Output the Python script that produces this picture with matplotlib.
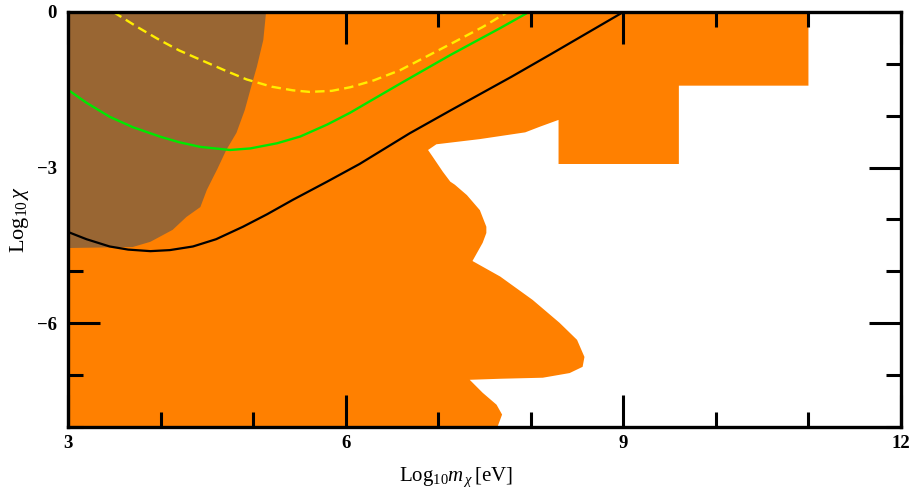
import matplotlib
matplotlib.use("Agg")
import matplotlib.pyplot as plt
from matplotlib.patches import Polygon
from matplotlib.ticker import MultipleLocator

plt.rcParams['font.family'] = ['Liberation Serif', 'DejaVu Serif']
plt.rcParams['mathtext.fontset'] = 'custom'
plt.rcParams['mathtext.rm'] = 'Liberation Serif'
plt.rcParams['mathtext.it'] = 'Liberation Serif:italic'
plt.rcParams['mathtext.bf'] = 'Liberation Serif:bold'

# ---- data ----
# excluded region (orange) boundary
orange_x = [3.0, 11.0, 11.0, 9.6, 9.6, 8.3, 8.30, 8.10, 7.94, 7.45, 6.98, 6.89, 6.94, 7.05, 7.13,
            7.18, 7.31, 7.45, 7.52, 7.52, 7.48, 7.37, 7.67, 8.02, 8.31, 8.50, 8.58, 8.56, 8.42,
            8.13, 7.67, 7.34, 7.48, 7.63, 7.69, 7.64, 3.0]
orange_y = [0.0, 0.0, -1.42, -1.42, -2.93, -2.93, -2.08, -2.21, -2.32, -2.45, -2.55, -2.66, -2.79,
            -3.08, -3.27, -3.33, -3.53, -3.82, -4.14, -4.26, -4.45, -4.80, -5.10, -5.55, -5.99,
            -6.32, -6.65, -6.84, -6.96, -7.05, -7.07, -7.09, -7.34, -7.57, -7.76, -8.0, -8.0]

# brown region boundary
brown_x = [3.0, 5.14, 5.11, 5.04, 4.99, 4.91, 4.82, 4.71, 4.61, 4.57, 4.50, 4.43, 4.28, 4.13,
           3.89, 3.70, 3.0]
brown_y = [0.0, 0.0, -0.54, -1.06, -1.37, -1.89, -2.33, -2.66, -3.04, -3.18, -3.43, -3.76,
           -3.95, -4.20, -4.43, -4.53, -4.55]

# black curve
black_x = [3.0, 3.2, 3.45, 3.65, 3.89, 4.1, 4.35, 4.6, 4.89, 5.15, 5.43, 5.8, 6.15, 6.69, 7.13,
           7.79, 8.21, 9.0]
black_y = [-4.24, -4.38, -4.52, -4.58, -4.61, -4.59, -4.52, -4.38, -4.14, -3.90, -3.62, -3.27,
           -2.93, -2.34, -1.90, -1.25, -0.82, 0.0]

# green curve
green_x = [3.0, 3.2, 3.45, 3.7, 3.99, 4.2, 4.43, 4.75, 4.97, 5.26, 5.51, 5.8, 6.05, 6.3, 6.59,
           7.13, 7.67, 7.98]
green_y = [-1.50, -1.75, -2.02, -2.22, -2.40, -2.51, -2.60, -2.66, -2.63, -2.53, -2.40, -2.17,
           -1.94, -1.68, -1.38, -0.83, -0.31, 0.0]

# yellow dashed curve
yellow_x = [3.49, 3.75, 3.99, 4.2, 4.43, 4.7, 4.93, 5.2, 5.43, 5.61, 5.85, 6.05, 6.3, 6.59, 6.85,
            7.13, 7.48, 7.75]
yellow_y = [0.0, -0.29, -0.54, -0.74, -0.92, -1.13, -1.30, -1.44, -1.51, -1.54, -1.52, -1.45,
            -1.32, -1.12, -0.88, -0.62, -0.29, 0.0]

x_major = [3, 6, 9, 12]
y_major = [0, -3, -6]

fig = plt.figure(figsize=(9.1, 4.9), dpi=100)
ax = fig.add_axes([68 / 910, 63 / 490, 833 / 910, 415 / 490])

ax.add_patch(Polygon(list(zip(orange_x, orange_y)), closed=True, facecolor='#FF8000',
                     edgecolor='none', zorder=1))
ax.add_patch(Polygon(list(zip(brown_x, brown_y)), closed=True, facecolor='#996633',
                     edgecolor='none', zorder=2))

ax.plot(green_x, green_y, color='#00E800', lw=1.7, zorder=3)
ax.plot(yellow_x, yellow_y, color='#FFEE00', lw=1.7, dashes=(4, 2.2), zorder=3)
ax.plot(black_x, black_y, color='black', lw=1.6, zorder=3)

ax.set_xlim(3, 12)
ax.set_ylim(-8, 0)

ax.xaxis.set_minor_locator(MultipleLocator(1))
ax.yaxis.set_minor_locator(MultipleLocator(1))
ax.set_xticks(x_major)
ax.set_xticklabels([str(v) for v in x_major])
ax.set_yticks(y_major)
ax.set_yticklabels([str(v).replace('-', '\u2212') for v in y_major])

ax.tick_params(which='both', direction='in', top=True, right=True, width=2.2, color='black')
ax.tick_params(which='major', length=23)
ax.tick_params(which='minor', length=11)
ax.tick_params(axis='x', which='major', pad=6)
ax.tick_params(axis='y', which='major', pad=8)
for lab in ax.get_xticklabels() + ax.get_yticklabels():
    lab.set_fontweight('bold')
    lab.set_fontsize(13.5)

for s in ax.spines.values():
    s.set_linewidth(2.4)
    s.set_zorder(5)

ax.set_xlabel(r'$\mathrm{Log}_{10}m_{\,\chi}\,[\mathrm{eV}]$', fontsize=15, va='center')
ax.xaxis.set_label_coords(0.466, -0.12)
ax.set_ylabel(r'$\mathrm{Log}_{10}\,\chi$', fontsize=16, va='center')
ax.yaxis.set_label_coords(-0.058, 0.5)

fig.savefig('out.png', dpi=100)
